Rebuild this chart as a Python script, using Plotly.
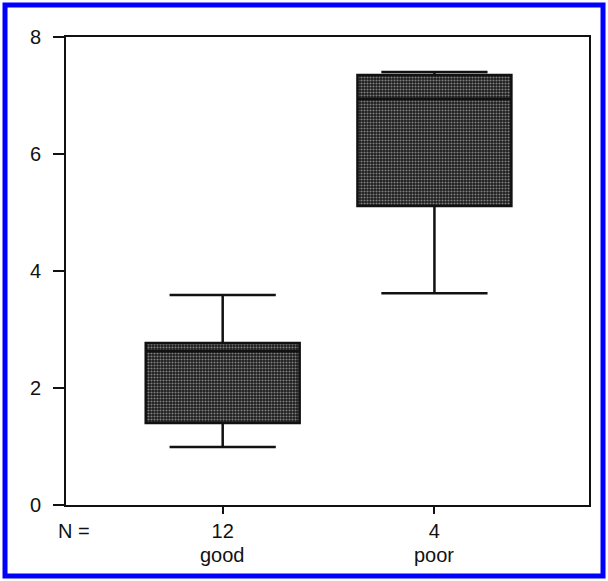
import plotly.graph_objects as go

# ---- data ----
categories = ["good", "poor"]
n_counts = [12, 4]
lower_whisker = [0.99, 3.62]
q1_values = [1.40, 5.11]
median_values = [2.63, 6.94]
q3_values = [2.77, 7.35]
upper_whisker = [3.59, 7.40]
y_ticks = [0, 2, 4, 6, 8]

FONT = "Liberation Sans, Arial, sans-serif"
FS = 20
BOX_W = 0.727

fig = go.Figure()

# stippled texture of the boxes (interquartile range)
fig.add_trace(go.Bar(
    x=categories,
    y=[q3 - q1 for q1, q3 in zip(q1_values, q3_values)],
    base=q1_values,
    width=BOX_W,
    marker=dict(
        color="#1a1a1a",
        line=dict(width=0),
        pattern=dict(shape=".", fgcolor="#e8e8e8", size=3, solidity=0.4),
    ),
    hoverinfo="skip",
    showlegend=False,
))

# box outlines, medians and whiskers
fig.add_trace(go.Box(
    x=categories,
    q1=q1_values,
    median=median_values,
    q3=q3_values,
    lowerfence=lower_whisker,
    upperfence=upper_whisker,
    width=BOX_W,
    whiskerwidth=0.69,
    fillcolor="rgba(0,0,0,0)",
    line=dict(color="#111111", width=2.5),
    showlegend=False,
    boxpoints=False,
))

# category names under N labels
for c in categories:
    fig.add_annotation(x=c, xref="x", y=-0.107, yref="paper", text=c,
                       showarrow=False, font=dict(family=FONT, size=FS, color="#111"),
                       xanchor="center", yanchor="middle")

fig.add_annotation(x=-0.019, xref="paper", y=-0.056, yref="paper", text="N =",
                   showarrow=False, font=dict(family=FONT, size=FS, color="#111"),
                   xanchor="left", yanchor="middle")

# blue outer frame
fig.add_shape(type="rect", xref="paper", yref="paper",
              x0=-0.1166, x1=1.0268, y0=-0.1517, y1=1.0684,
              line=dict(color="#0000ff", width=5), fillcolor="rgba(0,0,0,0)", layer="below")

fig.update_layout(
    width=608, height=581,
    margin=dict(l=66, r=19, t=37, b=76),
    paper_bgcolor="white", plot_bgcolor="white",
    font=dict(family=FONT, size=FS, color="#111"),
    bargap=0,
    showlegend=False,
)

fig.update_xaxes(
    type="category",
    range=[-0.74, 1.73],
    tickvals=categories,
    ticktext=[str(n) for n in n_counts],
    ticks="outside", ticklen=7, tickwidth=2, tickcolor="#111",
    showline=True, linecolor="#111", linewidth=2, mirror=True,
    showgrid=False, zeroline=False,
    tickfont=dict(family=FONT, size=FS, color="#111"),
)
fig.update_yaxes(
    range=[0, 8],
    tickvals=y_ticks,
    ticks="outside", ticklen=11, tickwidth=2, tickcolor="#111",
    showline=True, linecolor="#111", linewidth=2, mirror=True,
    showgrid=False, zeroline=False,
    ticklabelstandoff=8,
    tickfont=dict(family=FONT, size=FS, color="#111"),
)

fig.write_html("out.html", config={"displayModeBar": False},
               post_script="document.body.style.margin='0';")
